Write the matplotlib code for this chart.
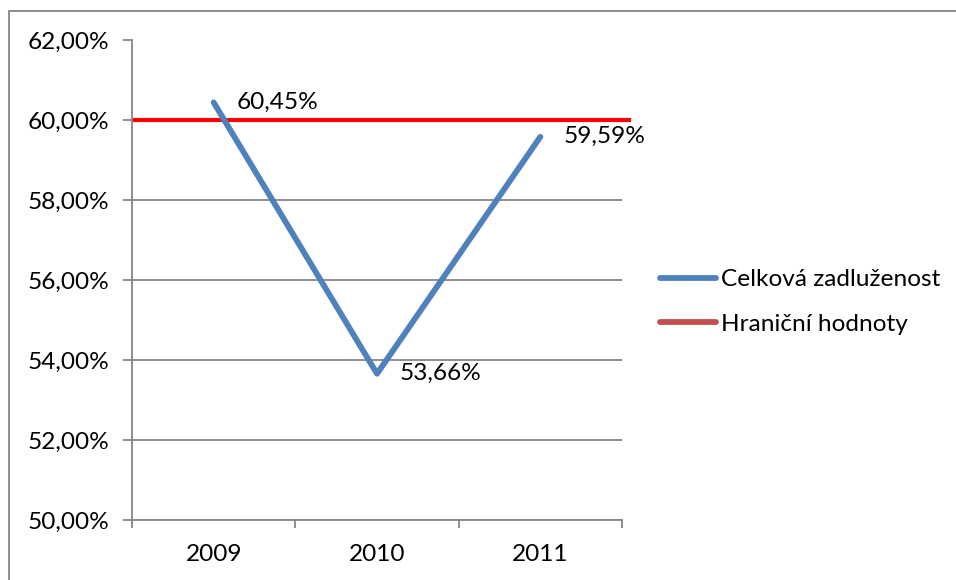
import matplotlib.pyplot as plt
from matplotlib.lines import Line2D
from matplotlib.patches import Rectangle
from matplotlib.ticker import FixedLocator, FuncFormatter

plt.rcParams["font.family"] = ["Lato", "DejaVu Sans"]

years = ["2009", "2010", "2011"]
zadluzenost = [60.45, 53.66, 59.59]
hranice = 60.0
y_ticks = [50, 52, 54, 56, 58, 60, 62]

grey = "#868686"
blue = "#4F81BD"
fs = 17.6

fig = plt.figure(figsize=(9.56, 5.8), dpi=100)
W, H = 956, 580

# outer chart frame (right and bottom edges fall outside the image)
fig.patches.append(Rectangle((9 / W, -0.1), 1.1, (580 - 11) / H + 0.1,
                             transform=fig.transFigure, fill=False,
                             edgecolor=grey, linewidth=1.3))

ax = fig.add_axes([132 / W, 60 / H, (622 - 132) / W, (520 - 40.5) / H])
x = list(range(len(years)))

ax.plot(x, zadluzenost, color=blue, linewidth=4.2, solid_capstyle="round",
        zorder=3)
ax.axhline(hranice, xmin=0.006, xmax=1.014, color="#FF0000", linewidth=3,
           clip_on=False, zorder=2)

for xi, v in zip(x, zadluzenost):
    ax.annotate(f"{v:.2f}%".replace(".", ","), (xi, v),
                xytext=(23, 0), textcoords="offset pixels",
                ha="left", va="center", fontsize=fs, color="black",
                zorder=4)

ax.set_xlim(-0.5, 2.5)
ax.set_ylim(50, 62)
ax.set_yticks(y_ticks)
ax.yaxis.set_major_formatter(FuncFormatter(lambda v, p: f"{v:.2f}%".replace(".", ",")))
ax.set_xticks(x)
ax.set_xticklabels(years)
ax.xaxis.set_minor_locator(FixedLocator([-0.5, 0.5, 1.5, 2.5]))

ax.grid(axis="y", color=grey, linewidth=1.3, zorder=1)
ax.set_axisbelow(True)
for s in ["top", "right"]:
    ax.spines[s].set_visible(False)
for s in ["left", "bottom"]:
    ax.spines[s].set_color(grey)
    ax.spines[s].set_linewidth(1.3)

ax.tick_params(axis="y", which="major", length=6.5, width=1.3, color=grey,
               pad=10, labelsize=fs)
ax.tick_params(axis="x", which="major", length=0, pad=17, labelsize=fs)
ax.tick_params(axis="x", which="minor", length=6, width=1.3, color=grey)

handles = [Line2D([], [], color=blue, linewidth=4.2, solid_capstyle="round"),
           Line2D([], [], color="#C0504D", linewidth=4.2, solid_capstyle="round")]
fig.legend(handles, ["Celková zadluženost", "Hraniční hodnoty"],
           loc="center left", bbox_to_anchor=(660 / W, 1 - 302 / H),
           frameon=False, fontsize=fs, handlelength=2.3, handletextpad=0.2,
           labelspacing=0.95, borderpad=0, borderaxespad=0)

fig.savefig("out.png", dpi=100)
